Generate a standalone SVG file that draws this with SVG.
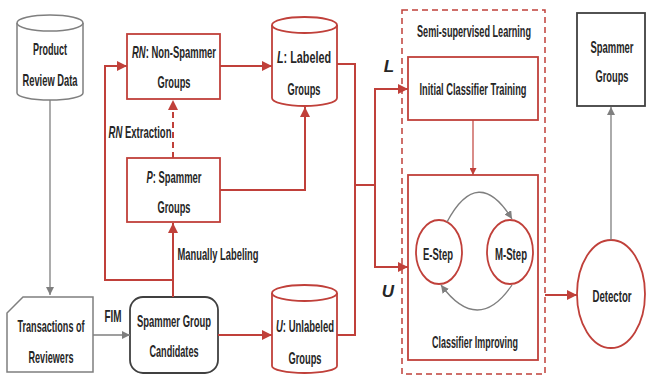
<svg xmlns="http://www.w3.org/2000/svg" width="646" height="376" viewBox="0 0 646 376">
<style>
text{font-family:"Liberation Sans Narrow","Liberation Sans",Arial,sans-serif;font-weight:bold;font-size:17px;fill:#262626;text-anchor:middle}
.i{font-style:italic}
.rb{fill:#fff;stroke:#c0403a;stroke-width:1.8}
.gb{fill:#fff;stroke:#7f7f7f;stroke-width:1.5}
.kb{fill:#fff;stroke:#404040;stroke-width:1.8}
.rl{fill:none;stroke:#c0403a;stroke-width:2}
.rt{fill:none;stroke:#c0403a;stroke-width:1.2}
.gl{fill:none;stroke:#7f7f7f;stroke-width:1.3}
</style>
<defs>
<marker id="ar" viewBox="0 0 10 10" refX="10" refY="5" markerWidth="10" markerHeight="10" markerUnits="userSpaceOnUse" orient="auto"><path d="M0,0L10,5L0,10z" fill="#c0403a"/></marker>
<marker id="ars" viewBox="0 0 10 10" refX="10" refY="5" markerWidth="7" markerHeight="7" markerUnits="userSpaceOnUse" orient="auto"><path d="M0,0L10,5L0,10z" fill="#c0403a"/></marker>
<marker id="ag" viewBox="0 0 10 10" refX="10" refY="5" markerWidth="8" markerHeight="8" markerUnits="userSpaceOnUse" orient="auto"><path d="M0,0L10,5L0,10z" fill="#7f7f7f"/></marker>
</defs>

<g id="product-review-data">
<path class="gb" d="M17,23V93A33,7 0 0 0 83,93V23"/>
<ellipse class="gb" cx="50" cy="23" rx="33" ry="8"/>
<text x="50" y="55" textLength="34" lengthAdjust="spacingAndGlyphs">Product</text>
<text x="50" y="86" textLength="55" lengthAdjust="spacingAndGlyphs">Review Data</text>
</g>

<g id="transactions">
<path class="gb" d="M23,297H93V372H7V313Z"/>
<text x="51" y="332" textLength="67" lengthAdjust="spacingAndGlyphs">Transactions of</text>
<text x="51" y="363" textLength="45" lengthAdjust="spacingAndGlyphs">Reviewers</text>
</g>

<g id="candidates">
<rect class="kb" x="130" y="297" width="88" height="76" rx="13"/>
<text x="174" y="327" textLength="74" lengthAdjust="spacingAndGlyphs">Spammer Group</text>
<text x="174" y="357" textLength="49" lengthAdjust="spacingAndGlyphs">Candidates</text>
</g>

<g id="rn-groups">
<rect class="rb" x="127" y="34" width="93" height="65"/>
<text x="174" y="58" textLength="84" lengthAdjust="spacingAndGlyphs"><tspan class="i">RN</tspan>:  Non-Spammer</text>
<text x="174" y="88" textLength="33" lengthAdjust="spacingAndGlyphs">Groups</text>
</g>

<g id="p-groups">
<rect class="rb" x="127" y="158" width="93" height="64"/>
<text x="174" y="183" textLength="55" lengthAdjust="spacingAndGlyphs"><tspan class="i">P</tspan>:  Spammer</text>
<text x="174" y="213" textLength="33" lengthAdjust="spacingAndGlyphs">Groups</text>
</g>

<g id="l-labeled">
<path class="rb" d="M272,25V98A32.5,8 0 0 0 337,98V25"/>
<ellipse class="rb" cx="304.5" cy="25" rx="32.5" ry="8"/>
<text x="304" y="63" textLength="54" lengthAdjust="spacingAndGlyphs"><tspan class="i">L</tspan>: Labeled</text>
<text x="304" y="95" textLength="33" lengthAdjust="spacingAndGlyphs">Groups</text>
</g>

<g id="u-unlabeled">
<path class="rb" d="M272,293V366A32.5,7 0 0 0 337,366V293"/>
<ellipse class="rb" cx="304.5" cy="293" rx="32.5" ry="8"/>
<text x="305" y="332" textLength="58" lengthAdjust="spacingAndGlyphs"><tspan class="i">U</tspan>: Unlabeled</text>
<text x="305" y="364" textLength="33" lengthAdjust="spacingAndGlyphs">Groups</text>
</g>

<g id="semi-supervised">
<rect x="402" y="10" width="143" height="364" fill="none" stroke="#c0403a" stroke-width="1.5" stroke-dasharray="6,4"/>
<text x="474" y="37" textLength="114" lengthAdjust="spacingAndGlyphs">Semi-supervised Learning</text>
</g>

<g id="initial-training">
<rect class="rb" x="408" y="57" width="130" height="63"/>
<text x="473" y="95" textLength="107" lengthAdjust="spacingAndGlyphs">Initial Classifier Training</text>
</g>

<g id="classifier-improving">
<rect class="rb" x="408" y="175" width="130" height="185"/>
<text x="475" y="348" textLength="86" lengthAdjust="spacingAndGlyphs">Classifier Improving</text>
</g>

<g id="e-step">
<ellipse class="rb" cx="439" cy="252" rx="23" ry="32"/>
<text x="438" y="260" textLength="30" lengthAdjust="spacingAndGlyphs">E-Step</text>
</g>

<g id="m-step">
<ellipse class="rb" cx="510" cy="252" rx="23" ry="32"/>
<text x="511" y="260" textLength="32" lengthAdjust="spacingAndGlyphs">M-Step</text>
</g>

<g id="detector">
<ellipse class="rb" cx="611" cy="294" rx="34" ry="54"/>
<text x="612" y="302" textLength="39" lengthAdjust="spacingAndGlyphs">Detector</text>
</g>

<g id="spammer-groups">
<rect class="kb" x="577" y="13" width="68" height="93"/>
<text x="612" y="53" textLength="43" lengthAdjust="spacingAndGlyphs">Spammer</text>
<text x="612" y="82" textLength="33" lengthAdjust="spacingAndGlyphs">Groups</text>
</g>

<g id="connectors">
<path class="gl" d="M50,100V295" marker-end="url(#ag)"/>
<path class="gl" d="M93,335H130" marker-end="url(#ag)"/>
<path class="rl" d="M218,335H272" marker-end="url(#ar)"/>
<path class="rl" d="M173,297V223" marker-end="url(#ar)"/>
<path class="rl" d="M173,280H105V66H127" marker-end="url(#ar)"/>
<path class="rl" d="M173,158V100" stroke-dasharray="6,4" marker-end="url(#ar)"/>
<path class="rl" d="M220,66H272" marker-end="url(#ar)"/>
<path class="rl" d="M220,190H305V107" marker-end="url(#ar)"/>
<path class="rl" d="M337,64H355V185H375"/>
<path class="rl" d="M337,335H355V185"/>
<path class="rl" d="M375,185V89H408" marker-end="url(#ar)"/>
<path class="rl" d="M375,185V267H408" marker-end="url(#ar)"/>
<path class="rt" d="M473,120V175" marker-end="url(#ars)"/>
<path class="rl" d="M545,295H577" marker-end="url(#ar)"/>
<path class="gl" d="M611,240V107" marker-end="url(#ag)"/>
<path class="gl" d="M447,222Q478,164 512,219" marker-end="url(#ag)"/>
<path class="gl" d="M512,285Q478,335 441,285" marker-end="url(#ag)"/>
<text x="113" y="322" textLength="17" lengthAdjust="spacingAndGlyphs">FIM</text>
<text x="140" y="138" textLength="63" lengthAdjust="spacingAndGlyphs"><tspan class="i">RN</tspan> Extraction</text>
<text x="218" y="260" textLength="81" lengthAdjust="spacingAndGlyphs">Manually Labeling</text>
<text x="389" y="72" class="i">L</text>
<text x="388" y="297" class="i">U</text>
</g>
</svg>
